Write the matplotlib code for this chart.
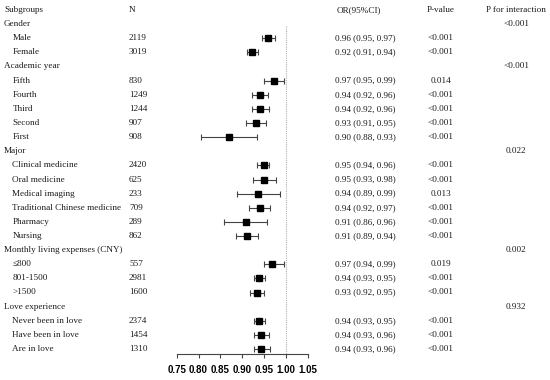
import matplotlib
matplotlib.use("Agg")
import matplotlib.pyplot as plt
from matplotlib.transforms import blended_transform_factory

# ---- data ----
groups = ["Gender", "Academic year", "Major", "Monthly living expenses (CNY)", "Love experience"]
p_interaction = ["<0.001", "<0.001", "0.022", "0.002", "0.932"]
subgroups = [
    ["Male", "Female"],
    ["Fifth", "Fourth", "Third", "Second", "First"],
    ["Clinical medicine", "Oral medicine", "Medical imaging", "Traditional Chinese medicine", "Pharmacy", "Nursing"],
    ["\u2264800", "801-1500", ">1500"],
    ["Never been in love", "Have been in love", "Are in love"],
]
n_values = [
    [2119, 3019],
    [830, 1249, 1244, 907, 908],
    [2420, 625, 233, 709, 289, 862],
    [557, 2981, 1600],
    [2374, 1454, 1310],
]
or_text = [
    ["0.96 (0.95, 0.97)", "0.92 (0.91, 0.94)"],
    ["0.97 (0.95, 0.99)", "0.94 (0.92, 0.96)", "0.94 (0.92, 0.96)", "0.93 (0.91, 0.95)", "0.90 (0.88, 0.93)"],
    ["0.95 (0.94, 0.96)", "0.95 (0.93, 0.98)", "0.94 (0.89, 0.99)", "0.94 (0.92, 0.97)", "0.91 (0.86, 0.96)", "0.91 (0.89, 0.94)"],
    ["0.97 (0.94, 0.99)", "0.94 (0.93, 0.95)", "0.93 (0.92, 0.95)"],
    ["0.94 (0.93, 0.95)", "0.94 (0.93, 0.96)", "0.94 (0.93, 0.96)"],
]
p_values = [
    ["<0.001", "<0.001"],
    ["0.014", "<0.001", "<0.001", "<0.001", "<0.001"],
    ["<0.001", "<0.001", "0.013", "<0.001", "<0.001", "<0.001"],
    ["0.019", "<0.001", "<0.001"],
    ["<0.001", "<0.001", "<0.001"],
]
# plotted point estimates and CIs (as drawn)
or_plot = [
    [0.959, 0.923],
    [0.972, 0.940, 0.941, 0.932, 0.870],
    [0.949, 0.951, 0.937, 0.940, 0.908, 0.911],
    [0.969, 0.939, 0.933],
    [0.939, 0.942, 0.944],
]
lo_plot = [
    [0.945, 0.912],
    [0.951, 0.922, 0.922, 0.909, 0.806],
    [0.935, 0.925, 0.889, 0.915, 0.859, 0.885],
    [0.950, 0.927, 0.918],
    [0.926, 0.926, 0.927],
]
hi_plot = [
    [0.974, 0.937],
    [0.995, 0.959, 0.961, 0.955, 0.934],
    [0.962, 0.977, 0.986, 0.964, 0.957, 0.937],
    [0.995, 0.953, 0.950],
    [0.953, 0.961, 0.963],
]
x_ticks = [0.75, 0.80, 0.85, 0.90, 0.95, 1.00, 1.05]

# ---- layout ----
W, H = 550, 380
fig = plt.figure(figsize=(W / 100, H / 100), dpi=100)
row0, step = 10.0, 14.125
ax_bottom_px = 354.0
ax_left_px, ax_right_px = 176.7, 307.7
ax = fig.add_axes([ax_left_px / W, 1 - ax_bottom_px / H,
                   (ax_right_px - ax_left_px) / W, ax_bottom_px / H])
ax.set_xlim(0.75, 1.05)
ax.set_ylim((ax_bottom_px - row0) / step, -row0 / step)
ax.patch.set_alpha(0)

serif = ["Liberation Serif", "DejaVu Serif"]
fs = 6.6
tr = blended_transform_factory(fig.transFigure, ax.transData)

def fx(px):
    return px / W

def txt(xpx, row, s, ha="left"):
    ax.text(fx(xpx), row, s, transform=tr, ha=ha, va="center",
            family=serif, fontsize=fs, color="#1a1a1a", clip_on=False)

# headers
txt(4, 0, "Subgroups")
txt(129, 0, "N")
txt(337, 0, "OR(95%CI)")
txt(441, 0, "P-value", ha="center")
txt(516, 0, "P for interaction", ha="center")

row = 1
for g, grp in enumerate(groups):
    txt(4, row, grp)
    txt(516, row, p_interaction[g], ha="center")
    row += 1
    for i, sg in enumerate(subgroups[g]):
        txt(12.5, row, sg)
        txt(129, row, str(n_values[g][i]))
        txt(335, row, or_text[g][i])
        txt(441, row, p_values[g][i], ha="center")
        est, lo, hi = or_plot[g][i], lo_plot[g][i], hi_plot[g][i]
        ax.errorbar([est], [row], xerr=[[est - lo], [hi - est]], fmt="s",
                    color="black", ms=4.4, ecolor="#444444", elinewidth=0.8,
                    capsize=2.2, capthick=0.8, zorder=3)
        row += 1

ax.plot([1.0, 1.0], [1.15, (ax_bottom_px - row0) / step], color="#b0b0b0",
        lw=0.8, ls=(0, (1, 1)), zorder=1)

for s in ["left", "top", "right"]:
    ax.spines[s].set_visible(False)
ax.spines["bottom"].set_color("#444444")
ax.spines["bottom"].set_linewidth(0.8)
ax.set_yticks([])
ax.set_xticks(x_ticks)
ax.set_xticklabels([f"{t:.2f}" for t in x_ticks])
ax.tick_params(axis="x", direction="out", length=3, width=0.8, color="#444444",
               pad=5, labelsize=7)
for lab in ax.get_xticklabels():
    lab.set_family(["Liberation Sans", "DejaVu Sans"])
    lab.set_fontweight("bold")

fig.savefig("out.png", dpi=100)
